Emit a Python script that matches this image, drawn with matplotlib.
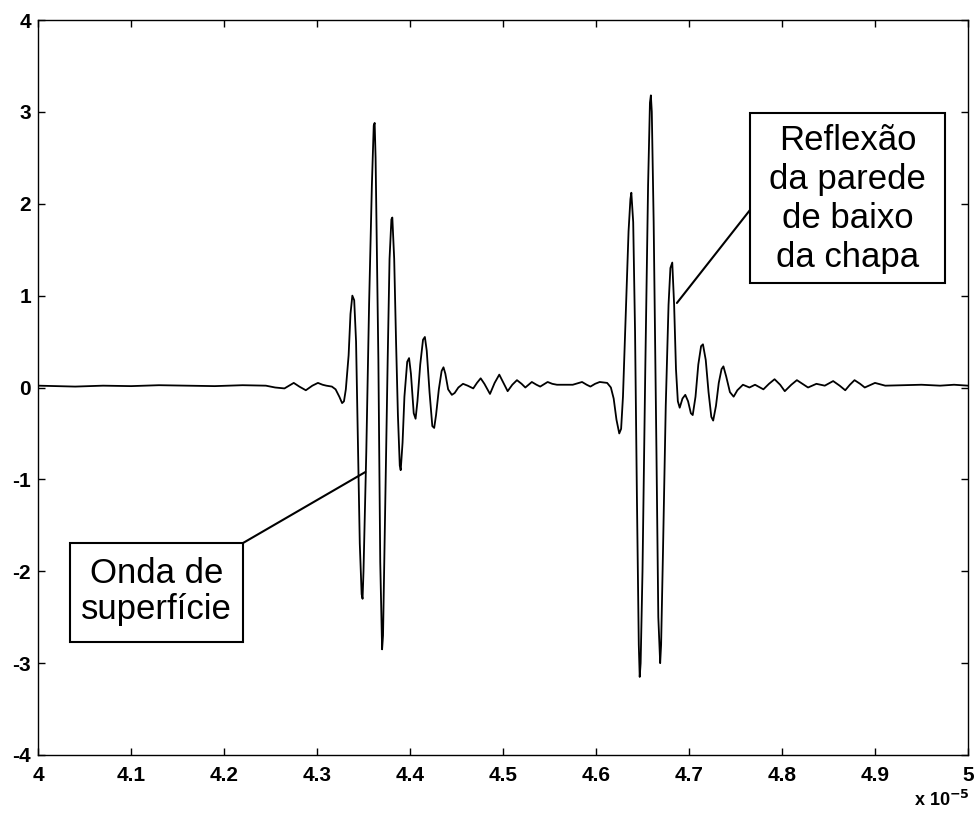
import numpy as np
import matplotlib.pyplot as plt
from matplotlib.patches import Rectangle

plt.rcParams['font.family'] = ['Liberation Sans', 'DejaVu Sans']

# time axis in units of 1e-5 s, amplitude
t_e5 = [4.000, 4.040, 4.070, 4.100, 4.130, 4.160, 4.190, 4.220, 4.245, 4.255,
        4.265, 4.270, 4.275, 4.281, 4.288, 4.295, 4.301, 4.306, 4.310, 4.316,
        4.320, 4.324, 4.327, 4.329, 4.331, 4.334, 4.336, 4.338, 4.340, 4.342,
        4.344, 4.346, 4.348, 4.349, 4.350, 4.353, 4.356, 4.359, 4.361, 4.362,
        4.363, 4.366, 4.368, 4.370, 4.371, 4.373, 4.376, 4.378, 4.380, 4.381,
        4.383, 4.385, 4.387, 4.389, 4.390, 4.392, 4.394, 4.397, 4.399, 4.401,
        4.404, 4.406, 4.408, 4.411, 4.414, 4.416, 4.418, 4.421, 4.424, 4.426,
        4.428, 4.431, 4.434, 4.436, 4.438, 4.441, 4.445, 4.448, 4.452, 4.457,
        4.462, 4.468, 4.472, 4.476, 4.480, 4.486, 4.491, 4.496, 4.500, 4.505,
        4.510, 4.515, 4.520, 4.524, 4.531, 4.536, 4.540, 4.548, 4.553, 4.558,
        4.575, 4.580, 4.585, 4.590, 4.594, 4.599, 4.604, 4.612, 4.616, 4.619,
        4.622, 4.625, 4.627, 4.629, 4.632, 4.635, 4.637, 4.638, 4.640, 4.642,
        4.644, 4.646, 4.647, 4.648, 4.650, 4.653, 4.656, 4.658, 4.659, 4.660,
        4.662, 4.665, 4.667, 4.669, 4.670, 4.672, 4.675, 4.678, 4.680, 4.682,
        4.684, 4.686, 4.688, 4.690, 4.693, 4.696, 4.699, 4.702, 4.704, 4.707,
        4.710, 4.713, 4.715, 4.718, 4.721, 4.724, 4.726, 4.729, 4.732, 4.735,
        4.737, 4.740, 4.744, 4.748, 4.752, 4.758, 4.765, 4.771, 4.780, 4.786,
        4.792, 4.798, 4.803, 4.810, 4.816, 4.822, 4.828, 4.837, 4.846, 4.855,
        4.862, 4.868, 4.873, 4.878, 4.884, 4.889, 4.900, 4.911, 4.930, 4.950,
        4.970, 4.985, 5.000]
amp = [0.02, 0.01, 0.02, 0.015, 0.025, 0.02, 0.015, 0.025, 0.02, 0.0,
       -0.01, 0.02, 0.05, 0.01, -0.03, 0.02, 0.05, 0.03, 0.02, 0.01,
       -0.02, -0.10, -0.17, -0.15, -0.02, 0.35, 0.80, 1.00, 0.95, 0.50,
       -0.6, -1.7, -2.25, -2.30, -2.0, -0.7, 0.9, 2.2, 2.85, 2.88,
       2.5, 0.3, -1.9, -2.85, -2.7, -1.5, 0.3, 1.4, 1.83, 1.85,
       1.4, 0.5, -0.3, -0.85, -0.9, -0.6, -0.1, 0.28, 0.32, 0.15,
       -0.28, -0.34, -0.15, 0.25, 0.52, 0.55, 0.4, -0.05, -0.42, -0.44,
       -0.3, -0.02, 0.18, 0.22, 0.15, -0.02, -0.08, -0.06, 0.0, 0.04,
       0.02, -0.01, 0.05, 0.10, 0.04, -0.07, 0.05, 0.14, 0.06, -0.04,
       0.03, 0.08, 0.04, 0.0, 0.06, 0.03, 0.01, 0.06, 0.04, 0.03,
       0.03, 0.045, 0.06, 0.03, 0.01, 0.04, 0.06, 0.05, 0.0, -0.12,
       -0.35, -0.5, -0.45, -0.1, 0.8, 1.7, 2.05, 2.12, 1.8, 0.6,
       -1.2, -2.8, -3.15, -3.0, -2.0, 0.2, 2.2, 3.1, 3.18, 3.0,
       1.8, -0.7, -2.5, -3.0, -2.8, -1.8, -0.2, 0.9, 1.3, 1.36,
       0.9, 0.2, -0.15, -0.22, -0.12, -0.08, -0.15, -0.28, -0.30, -0.1,
       0.25, 0.45, 0.47, 0.3, -0.05, -0.32, -0.36, -0.2, 0.05, 0.2,
       0.23, 0.12, -0.05, -0.10, -0.03, 0.03, 0.0, 0.03, -0.02, 0.04,
       0.09, 0.03, -0.04, 0.03, 0.08, 0.04, 0.0, 0.04, 0.02, 0.07,
       0.02, -0.03, 0.03, 0.08, 0.04, 0.0, 0.05, 0.02, 0.025, 0.03,
       0.02, 0.03, 0.02]

xticks_e5 = [4.0, 4.1, 4.2, 4.3, 4.4, 4.5, 4.6, 4.7, 4.8, 4.9, 5.0]
xtick_labels = ['4', '4.1', '4.2', '4.3', '4.4', '4.5', '4.6', '4.7', '4.8', '4.9', '5']
yticks = [-4, -3, -2, -1, 0, 1, 2, 3, 4]

label_surface = 'Onda de\nsuperfície'
label_reflex = 'Reflexão\nda parede\nde baixo\nda chapa'
point_surface = (4.352, -0.92)
point_reflex = (4.687, 0.92)

t = np.array(t_e5) * 1e-5

fig = plt.figure(figsize=(9.76, 8.14), dpi=100)
ax = fig.add_axes([38/976, 1 - 755/814, 930/976, 735/814])

ax.plot(t, amp, color='black', lw=1.3)

ax.set_xlim(4e-5, 5e-5)
ax.set_ylim(-4, 4)
ax.set_xticks(np.array(xticks_e5) * 1e-5)
ax.set_xticklabels(xtick_labels)
ax.set_yticks(yticks)
ax.set_yticklabels([str(v) for v in yticks])
ax.tick_params(direction='in', length=5, width=1, top=True, right=True,
               labelsize=15)
ax.tick_params(axis='x', pad=8)
ax.tick_params(axis='y', pad=5)
for lab in ax.get_xticklabels() + ax.get_yticklabels():
    lab.set_fontweight('bold')
for sp in ax.spines.values():
    sp.set_linewidth(1.0)

# annotation boxes and leader lines
ax.add_patch(Rectangle((0.0344, 0.1537), 0.186, 0.1347, transform=ax.transAxes,
                       facecolor='white', edgecolor='black', lw=1.5, zorder=3))
ax.text(0.1274, 0.2225, label_surface, transform=ax.transAxes, ha='center',
        va='center', fontsize=25, linespacing=1.08, zorder=4)
ax.annotate('', xy=(point_surface[0] * 1e-5, point_surface[1]),
            xytext=(0.2204, 0.2884), textcoords='axes fraction',
            arrowprops=dict(arrowstyle='-', color='black', lw=1.5,
                            shrinkA=0, shrinkB=0))

ax.add_patch(Rectangle((0.7656, 0.642), 0.2097, 0.2315, transform=ax.transAxes,
                       facecolor='white', edgecolor='black', lw=1.5, zorder=3))
ax.text(0.8704, 0.7565, label_reflex, transform=ax.transAxes, ha='center',
        va='center', fontsize=25, linespacing=1.22, zorder=4)
ax.annotate('', xy=(point_reflex[0] * 1e-5, point_reflex[1]),
            xytext=(0.7656, 0.7415), textcoords='axes fraction',
            arrowprops=dict(arrowstyle='-', color='black', lw=1.5,
                            shrinkA=0, shrinkB=0))

fig.text(970/976, 1 - 800/814, r'x 10$^{\mathbf{-5}}$', fontsize=13,
         fontweight='bold', ha='right', va='center')

fig.savefig('out.png', dpi=100)
